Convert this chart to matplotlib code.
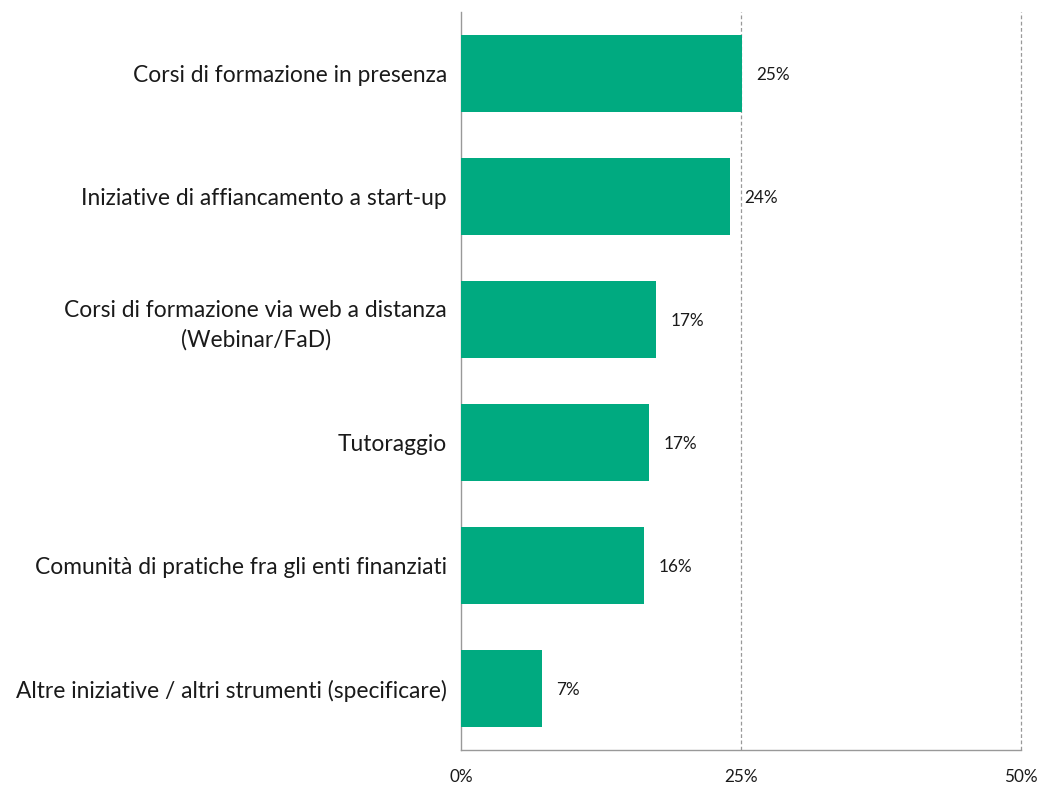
import matplotlib.pyplot as plt
import numpy as np

categories = [
    "Corsi di formazione in presenza",
    "Iniziative di affiancamento a start-up",
    "Corsi di formazione via web a distanza\n(Webinar/FaD)",
    "Tutoraggio",
    "Comunità di pratiche fra gli enti finanziati",
    "Altre iniziative / altri strumenti (specificare)",
]
values = [25.1, 24.0, 17.4, 16.8, 16.3, 7.2]
xticks = [0, 25, 50]

plt.rcParams['font.family'] = ['Lato', 'DejaVu Sans']

fig = plt.figure(figsize=(10.43, 7.87), dpi=100)
ax = fig.add_axes([461 / 1043, 37 / 787, 560 / 1043, 738 / 787])

y = np.arange(len(categories))
ax.barh(y, values, height=0.63, color='#00AA80', zorder=3)

for yi, v in zip(y, values):
    ax.annotate(f"{v:.0f}%", (v, yi), xytext=(10.5, -1), textcoords='offset points',
                ha='left', va='center', fontsize=12.3, color='#1a1a1a')

ax.set_ylim(len(categories) - 0.5, -0.5)
ax.set_xlim(0, 50)
ax.set_yticks(y)
ax.set_yticklabels(categories, fontsize=16.4, color='#1a1a1a')
for lbl in ax.get_yticklabels():
    lbl.set_multialignment('center')
    lbl.set_linespacing(1.45)
ax.tick_params(axis='y', length=0, pad=10)

ax.set_xticks(xticks)
ax.set_xticklabels([f"{t}%" for t in xticks], fontsize=12.3, color='#1a1a1a')
ax.tick_params(axis='x', length=0, pad=14)

for t in xticks[1:]:
    ax.axvline(t, color='#999999', lw=0.9, ls=(0, (3, 2)), zorder=1, clip_on=False)

for s in ['top', 'right']:
    ax.spines[s].set_visible(False)
ax.spines['left'].set_color('#999999')
ax.spines['bottom'].set_color('#999999')
ax.spines['left'].set_linewidth(1)
ax.spines['bottom'].set_linewidth(1)

fig.savefig("out.png", dpi=100)
